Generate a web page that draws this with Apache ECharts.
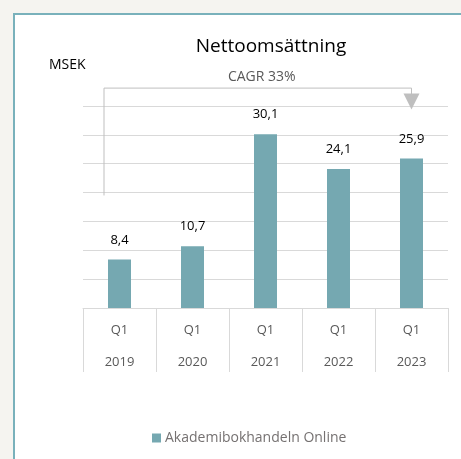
<!DOCTYPE html>
<html><head><meta charset="utf-8">
<script src="https://cdn.jsdelivr.net/npm/echarts@6/dist/echarts.min.js"></script>
<style>html,body{margin:0;padding:0;background:#f5f4f0}#c{width:461px;height:459px}</style>
</head><body><div id="c"></div>
<script>
var quarters = ['Q1','Q1','Q1','Q1','Q1'];
var years = ['2019','2020','2021','2022','2023'];
var values = [8.4, 10.7, 30.1, 24.1, 25.9];
var seriesName = 'Akademibokhandeln Online';
var titleText = 'Nettoomsättning';
var unitText = 'MSEK';
var cagrText = 'CAGR 33%';

var cats = quarters.map(function(q,i){return q+'\n'+years[i];});
var FONT = 'Open Sans';
var chart = echarts.init(document.getElementById('c'), null, {renderer:'canvas'});
var bg = [{type:'rect', z:-10, silent:true, shape:{x:14,y:14,width:520,height:520}, style:{fill:'#ffffff', stroke:'#79b1bb', lineWidth:2}}];
var option = {
  backgroundColor:'#f5f4f0',
  animation:false,
  title:{text:titleText, left:266, textAlign:'center', top:32, textStyle:{fontFamily:FONT, fontSize:19, fontWeight:'normal', color:'#000'}},
  legend:{data:[seriesName], left:147, top:426, itemWidth:9, itemHeight:9, itemGap:4, icon:'rect',
    textStyle:{fontFamily:FONT, fontSize:14, color:'#757171', padding:[0,0,0,-1]}},
  grid:{left:83, right:13, top:106, bottom:151, containLabel:false},
  xAxis:{type:'category', data:cats,
    axisLine:{lineStyle:{color:'#d9d9d9', width:1}},
    axisTick:{show:true, length:64, lineStyle:{color:'#d9d9d9'}},
    axisLabel:{margin:6, fontFamily:FONT, fontSize:13, color:'#595959', lineHeight:32}},
  yAxis:{type:'value', min:0, max:35, interval:5,
    axisLabel:{show:false}, axisLine:{show:false}, axisTick:{show:false},
    splitLine:{lineStyle:{color:'#d9d9d9', width:1}}},
  series:[{name:seriesName, type:'bar', data:values, barWidth:23,
    itemStyle:{color:'#75a8b1'},
    label:{show:true, position:'top', distance:13, fontFamily:FONT, fontSize:13, color:'#000',
      formatter:function(p){return String(p.value).replace('.',',');}}}],
  graphic: bg
};
chart.setOption(option);

// CAGR bracket annotation, positioned through the axes
var p0 = chart.convertToPixel({seriesIndex:0}, [0, 19.5]);
var p4 = chart.convertToPixel({seriesIndex:0}, [4, 34.4]);
var pTop = chart.convertToPixel({seriesIndex:0}, [0, 38.1]);
var xl = p0[0] - 15.5, xr = p4[0], yt = pTop[1];
var g = bg.concat([
  {type:'text', z:50, silent:true, style:{text:unitText, x:49, y:58, fontFamily:FONT, fontSize:14, fill:'#000'}},
  {type:'polyline', z:50, silent:true, shape:{points:[[xl,p0[1]],[xl,yt],[xr,yt],[xr,p4[1]-14]]}, style:{stroke:'#bfbfbf', lineWidth:1, fill:null}},
  {type:'polygon', z:50, silent:true, shape:{points:[[xr-8,p4[1]-16],[xr+8,p4[1]-16],[xr,p4[1]]]}, style:{fill:'#bfbfbf'}},
  {type:'text', z:50, silent:true, style:{text:cagrText, x:(xl+xr)/2+4, y:yt-11, align:'center', verticalAlign:'middle', fontFamily:FONT, fontSize:14, fill:'#595959'}}
]);
chart.setOption({graphic:g});
</script></body></html>
